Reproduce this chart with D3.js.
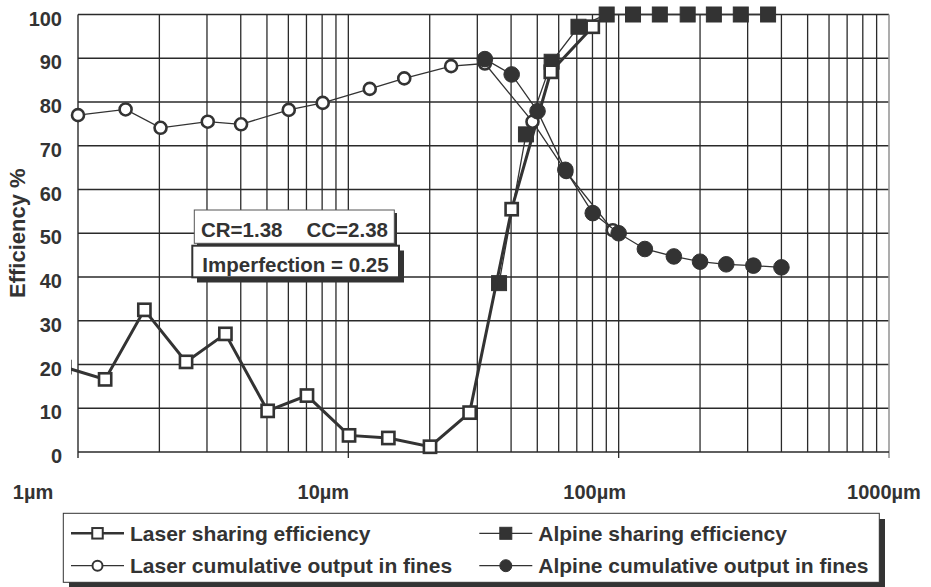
<!DOCTYPE html>
<html><head><meta charset="utf-8">
<script src="https://cdn.jsdelivr.net/npm/d3@7"></script>
<style>
html,body{margin:0;padding:0;background:#fff;}
svg text{font-family:"Liberation Sans",Arial,Helvetica,sans-serif;font-weight:bold;fill:#333;}
</style></head>
<body>
<svg id="chart" width="931" height="587"></svg>
<script>
// ---- data ----
const laserShareX = [0.89, 1.26, 1.76, 2.51, 3.51, 5.03, 7.03, 10.06, 14.06, 20.05, 28.1, 40.2, 56.1, 80.2];
const laserShareY = [19.4, 16.6, 32.5, 20.6, 27.0, 9.4, 12.9, 3.8, 3.2, 1.2, 9.0, 55.5, 86.9, 97.2];
const alpineShareX = [36.1, 45.4, 56.5, 71, 90.3, 113, 142, 180, 225, 283, 357];
const alpineShareY = [38.6, 72.6, 89.2, 97.2, 100, 100, 100, 100, 100, 100, 100];
const laserCumX = [1.0, 1.5, 2.02, 3.02, 4.01, 6.02, 8.04, 12.0, 16.1, 24.0, 32.0, 48.0, 64.0, 95.1];
const laserCumY = [77.0, 78.3, 74.1, 75.5, 74.9, 78.2, 79.8, 83.0, 85.4, 88.2, 88.8, 75.5, 64.0, 50.7];
const alpineCumX = [32.0, 40.2, 50.1, 63.5, 80.2, 100, 125, 160, 200, 250, 315, 400];
const alpineCumY = [89.8, 86.3, 77.9, 64.5, 54.6, 50.0, 46.4, 44.7, 43.5, 42.9, 42.6, 42.2];
const yTicks = [0, 10, 20, 30, 40, 50, 60, 70, 80, 90, 100];
const xTickValues = [1, 10, 100, 1000];
const xTickLabels = ["1µm", "10µm", "100µm", "1000µm"];
const seriesNames = ["Laser sharing efficiency", "Alpine sharing efficiency",
                     "Laser cumulative output in fines", "Alpine cumulative output in fines"];
const noteLine1a = "CR=1.38", noteLine1b = "CC=2.38";
const noteLine2 = "Imperfection = 0.25";
const yTitle = "Efficiency %";

// ---- layout ----
const W = 931, H = 587;
const m = {left: 78, right: 889, top: 14.5, bottom: 452};
const xLabelDx = [-45, -25, -24, -5];
const ink = "#333";
const gridInk = "#2a2a2a";

const svg = d3.select("#chart");
const x = d3.scaleLog().domain([1, 1000]).range([m.left, m.right]);
const y = d3.scaleLinear().domain([0, 100]).range([m.bottom, m.top]);

// grid
const gridX = [];
for (let d = 1; d < 1000; d *= 10) for (let k = 2; k <= 9; k++) gridX.push(d * k);
const g = svg.append("g");
g.selectAll("line.vx").data(gridX).enter().append("line")
  .attr("x1", d => x(d)).attr("x2", d => x(d)).attr("y1", m.top).attr("y2", m.bottom)
  .attr("stroke", gridInk).attr("stroke-width", 1.3);
g.selectAll("line.vm").data([10, 100]).enter().append("line")
  .attr("x1", d => x(d)).attr("x2", d => x(d)).attr("y1", m.top).attr("y2", m.bottom + 6)
  .attr("stroke", gridInk).attr("stroke-width", 1.3);
g.selectAll("line.hy").data(yTicks.slice(1)).enter().append("line")
  .attr("x1", m.left).attr("x2", m.right).attr("y1", d => y(d)).attr("y2", d => y(d))
  .attr("stroke", gridInk).attr("stroke-width", 1.3);
// frame
g.append("line").attr("x1", m.left).attr("x2", m.left).attr("y1", m.top).attr("y2", m.bottom + 6).attr("stroke", gridInk).attr("stroke-width", 1.4);
g.append("line").attr("x1", m.right).attr("x2", m.right).attr("y1", m.top).attr("y2", m.bottom + 6).attr("stroke", "#999").attr("stroke-width", 1.6);
g.append("line").attr("x1", m.left).attr("x2", m.right).attr("y1", m.bottom).attr("y2", m.bottom).attr("stroke", gridInk).attr("stroke-width", 1.5);

// y labels
svg.selectAll("text.yt").data(yTicks).enter().append("text")
  .attr("x", 62).attr("y", d => y(d) + 11).attr("text-anchor", "end")
  .style("font-size", "20px").text(d => d);
// x labels
svg.selectAll("text.xt").data(xTickValues).enter().append("text")
  .attr("x", (d, i) => x(d) + xLabelDx[i]).attr("y", 499).attr("text-anchor", "middle")
  .style("font-size", "20px").text((d, i) => xTickLabels[i]);
// y title
svg.append("text").attr("transform", `translate(25,${(m.top + m.bottom) / 2}) rotate(-90)`)
  .attr("text-anchor", "middle").style("font-size", "22px").text(yTitle);

// clip for laser sharing line
svg.append("clipPath").attr("id", "clipL").append("rect")
  .attr("x", m.left - 7).attr("y", 0).attr("width", W).attr("height", H);

const line = d3.line().x(d => x(d[0])).y(d => y(d[1]));
const zip = (a, b) => a.map((v, i) => [v, b[i]]);

const laserShare = zip(laserShareX, laserShareY);
const alpineShare = zip(alpineShareX, alpineShareY);
const laserCum = zip(laserCumX, laserCumY);
const alpineCum = zip(alpineCumX, alpineCumY);

function drawSquares(data, filled, size, clip) {
  const sg = svg.append("g");
  if (clip) sg.attr("clip-path", "url(#clipL)");
  sg.selectAll("rect").data(data).enter().append("rect")
    .attr("x", d => x(d[0]) - size / 2).attr("y", d => y(d[1]) - size / 2)
    .attr("width", size).attr("height", size)
    .attr("fill", filled ? ink : "#fff").attr("stroke", ink).attr("stroke-width", filled ? 1 : 2.6);
}
function drawCircles(data, filled, r) {
  svg.append("g").selectAll("circle").data(data).enter().append("circle")
    .attr("cx", d => x(d[0])).attr("cy", d => y(d[1])).attr("r", r)
    .attr("fill", filled ? ink : "#fff").attr("stroke", ink).attr("stroke-width", filled ? 1 : 2.6);
}

// Alpine sharing
svg.append("path").datum(alpineShare).attr("d", line).attr("fill", "none").attr("stroke", ink).attr("stroke-width", 1.3);
drawSquares(alpineShare, true, 15, false);
// Laser sharing
svg.append("path").datum(laserShare).attr("d", line).attr("fill", "none").attr("stroke", ink)
  .attr("stroke-width", 3).attr("clip-path", "url(#clipL)");
drawSquares(laserShare, false, 12.2, true);
// Laser cumulative
svg.append("path").datum(laserCum).attr("d", line).attr("fill", "none").attr("stroke", ink).attr("stroke-width", 1.3);
drawCircles(laserCum, false, 6);
// Alpine cumulative
svg.append("path").datum(alpineCum).attr("d", line).attr("fill", "none").attr("stroke", ink).attr("stroke-width", 1.3);
drawCircles(alpineCum, true, 7.8);

// annotation boxes
const nb = svg.append("g");
nb.append("rect").attr("x", 197).attr("y", 213).attr("width", 200).attr("height", 33.3).attr("fill", ink);
nb.append("rect").attr("x", 194.3).attr("y", 210).attr("width", 200).attr("height", 33.3).attr("fill", "#fff").attr("stroke", "#555").attr("stroke-width", 1);
nb.append("text").attr("x", 201).attr("y", 236.5).style("font-size", "20.5px").text(noteLine1a);
nb.append("text").attr("x", 388).attr("y", 236.5).attr("text-anchor", "end").style("font-size", "20.5px").text(noteLine1b);
nb.append("rect").attr("x", 197).attr("y", 250.5).attr("width", 207).attr("height", 32).attr("fill", ink);
nb.append("rect").attr("x", 192.3).attr("y", 245.7).attr("width", 206.7).attr("height", 31.6).attr("fill", "#fff").attr("stroke", ink).attr("stroke-width", 2);
nb.append("text").attr("x", 295.5).attr("y", 271.5).attr("text-anchor", "middle").style("font-size", "20.5px").text(noteLine2);

// legend
const lg = svg.append("g");
lg.append("rect").attr("x", 69).attr("y", 519).attr("width", 816).attr("height", 68).attr("fill", ink);
lg.append("rect").attr("x", 63.3).attr("y", 513.3).attr("width", 816).attr("height", 69).attr("fill", "#fff").attr("stroke", ink).attr("stroke-width", 1);
const legItems = [
  {col: 0, row: 0, shape: "sq", filled: false, w: 2.5},
  {col: 1, row: 0, shape: "sq", filled: true, w: 1.3},
  {col: 0, row: 1, shape: "ci", filled: false, w: 1.3},
  {col: 1, row: 1, shape: "ci", filled: true, w: 1.3}
];
const legColX = [71, 479.3];
const legRowY = [533.3, 565.7];
legItems.forEach((it, i) => {
  const x0 = legColX[it.col], yy = legRowY[it.row], cx = x0 + 26.5;
  lg.append("line").attr("x1", x0).attr("x2", x0 + 53).attr("y1", yy).attr("y2", yy).attr("stroke", ink).attr("stroke-width", it.w);
  if (it.shape === "sq") {
    const s = it.filled ? 12 : 10.5;
    lg.append("rect").attr("x", cx - s / 2).attr("y", yy - s / 2).attr("width", s).attr("height", s)
      .attr("fill", it.filled ? ink : "#fff").attr("stroke", ink).attr("stroke-width", it.filled ? 1 : 2);
  } else {
    lg.append("circle").attr("cx", cx).attr("cy", yy).attr("r", it.filled ? 6 : 5)
      .attr("fill", it.filled ? ink : "#fff").attr("stroke", ink).attr("stroke-width", it.filled ? 1 : 2);
  }
  lg.append("text").attr("x", x0 + 59).attr("y", yy + 7.5).style("font-size", "21px").text(seriesNames[i]);
});
</script>
</body></html>
